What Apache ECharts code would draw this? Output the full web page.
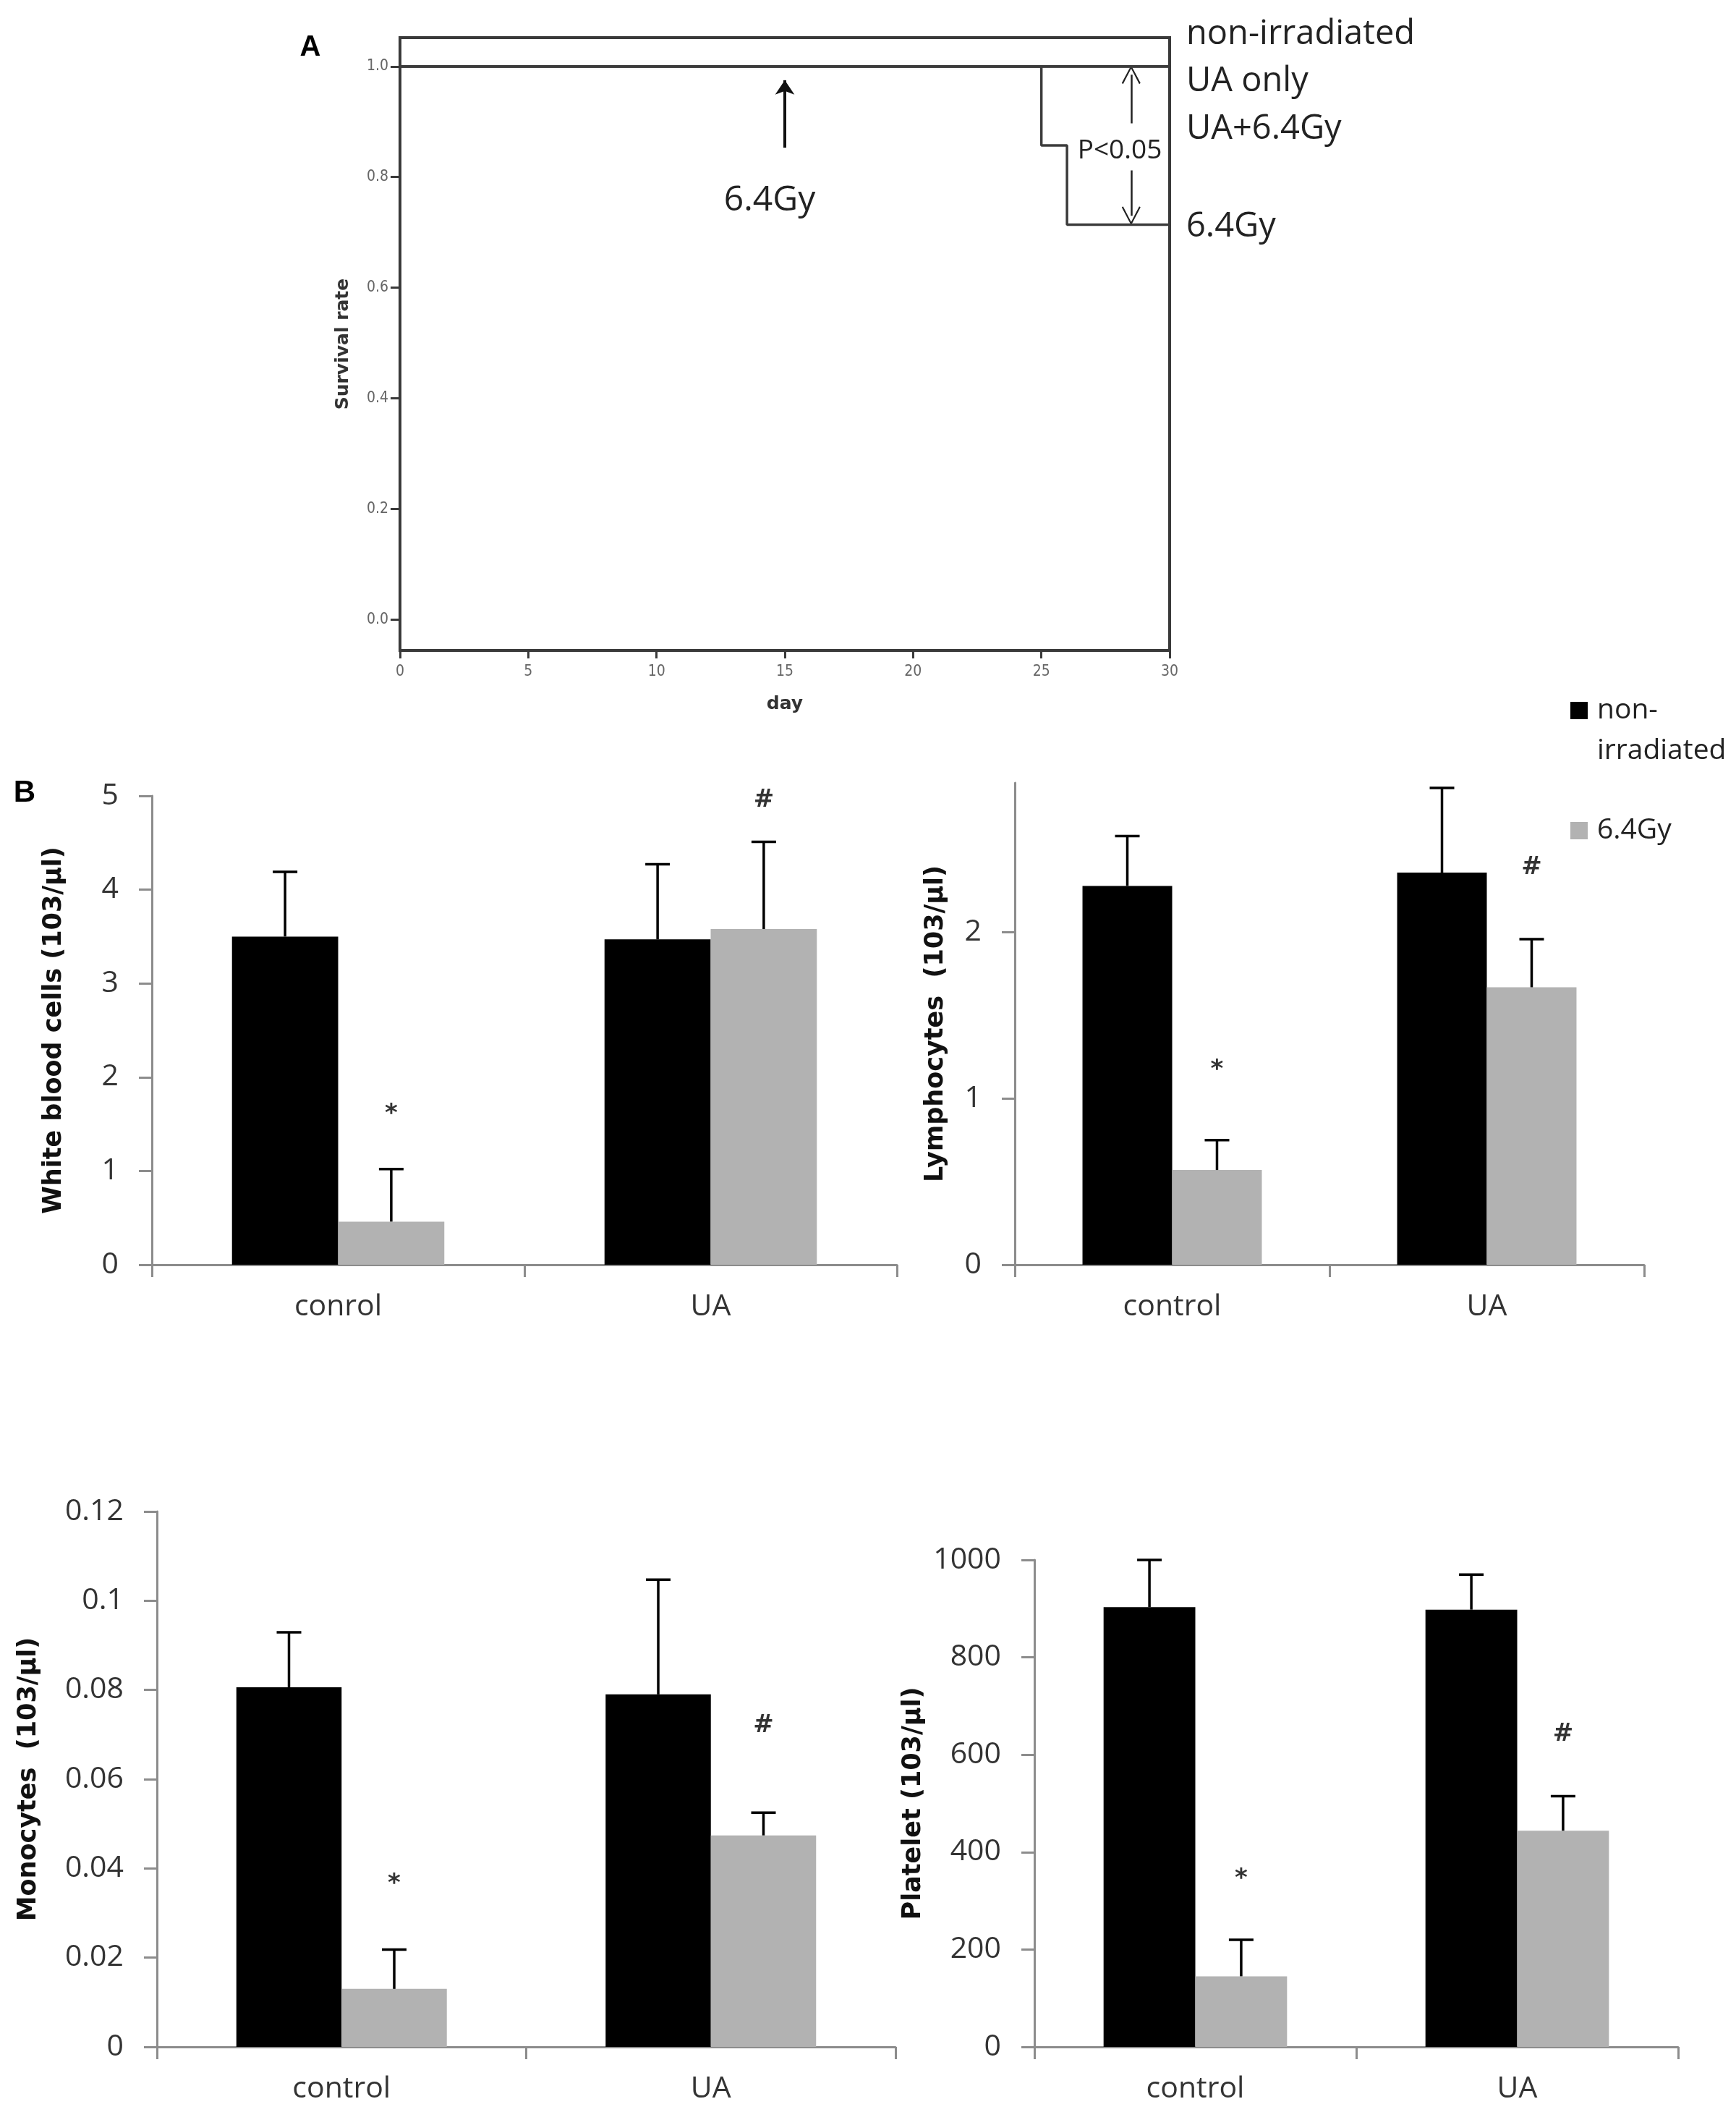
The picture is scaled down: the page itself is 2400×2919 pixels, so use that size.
<!doctype html>
<html lang="en">
<head>
<meta charset="UTF-8">
<title>Survival and blood counts</title>
<script src="https://cdn.jsdelivr.net/npm/echarts@6/dist/echarts.min.js"></script>
<style>html,body{margin:0;padding:0;background:#fff;}</style>
</head>
<body>
<div id="main" style="width:2400px;height:2919px;"></div>
<script>
// ---- panel A : survival curves ----
var rateTicks = [0, 0.2, 0.4, 0.6, 0.8, 1.0];
var curveNonIrr = [[0, 1], [30, 1]];
var curveUAOnly = [[0, 1], [30, 1]];
var curveUAIrr = [[0, 1], [30, 1]];
var curveIrr = [[0, 1], [25, 0.857], [26, 0.714], [30, 0.714]];
var irrArrow = [[15, 0.853], [15, 0.975]];
var pArrowUp = [[28.5, 0.897], [28.5, 0.985]];
var pArrowDown = [[28.5, 0.812], [28.5, 0.73]];

// ---- panel B : blood counts ----
var wbcGroups = ['conrol', 'UA'];
var wbcNon = [3.50, 3.47], wbcNonSd = [0.69, 0.80];
var wbcIrr = [0.46, 3.58], wbcIrrSd = [0.56, 0.93];
var wbcMarks = ['*', '#'], wbcMarkAt = [1.6, 4.95];

var lymGroups = ['control', 'UA'];
var lymNon = [2.28, 2.36], lymNonSd = [0.30, 0.51];
var lymIrr = [0.57, 1.67], lymIrrSd = [0.18, 0.29];
var lymMarks = ['*', '#'], lymMarkAt = [1.17, 2.39];

var monGroups = ['control', 'UA'];
var monNon = [0.0806, 0.0790], monNonSd = [0.0123, 0.0257];
var monIrr = [0.0130, 0.0474], monIrrSd = [0.0088, 0.0051];
var monMarks = ['*', '#'], monMarkAt = [0.0365, 0.072];

var pltGroups = ['control', 'UA'];
var pltNon = [903, 898], pltNonSd = [97, 72];
var pltIrr = [145, 444], pltIrrSd = [75, 71];
var pltMarks = ['*', '#'], pltMarkAt = [345, 642];

var GAP = 0.43;
var BLACK = '#000000', GREY = '#b2b2b2', AXIS = '#8c8c8c';
var TXT = '"Open Sans", sans-serif';
var chart = echarts.init(document.getElementById('main'));

function pairs(means, extra) {
    return means.map(function (m, i) { return [i, m, extra ? extra[i] : 0]; });
}

function errItem(side) {
    return function (params, api) {
        var c = api.value(0), m = api.value(1), s = api.value(2);
        var bw = api.size([1, 0])[0] * (1 - GAP) / 2;
        var p0 = api.coord([c, m]), p1 = api.coord([c, m + s]);
        var x = p0[0] + side * bw / 2;
        var st = {stroke: '#000', lineWidth: 3.5};
        return {type: 'group', children: [
            {type: 'line', shape: {x1: x, y1: p0[1], x2: x, y2: p1[1]}, style: st},
            {type: 'line', shape: {x1: x - 17, y1: p1[1], x2: x + 17, y2: p1[1]}, style: st}
        ]};
    };
}

function markItem(texts) {
    return function (params, api) {
        var bw = api.size([1, 0])[0] * (1 - GAP) / 2;
        var p = api.coord([api.value(0), api.value(1)]);
        return {type: 'text', x: p[0] + bw / 2, y: p[1], style: {
            text: texts[params.dataIndex], fill: '#333',
            font: 'bold 34px "DejaVu Sans"',
            align: 'center', verticalAlign: 'middle',
            textAlign: 'center', textVerticalAlign: 'middle'
        }};
    };
}

var grids = [{left: 553, top: 52, width: 1064, height: 847,
              show: true, borderColor: '#3a3a3a', borderWidth: 4}];
var xAxes = [{
    gridIndex: 0, type: 'value', min: 0, max: 30, interval: 5,
    name: 'day', nameLocation: 'middle', nameGap: 62,
    nameTextStyle: {fontFamily: 'DejaVu Sans', fontWeight: 'bold', fontSize: 25, color: '#333'},
    axisLine: {show: false, onZero: false}, splitLine: {show: false},
    axisTick: {show: true, length: 11, lineStyle: {color: '#3a3a3a', width: 3}},
    axisLabel: {margin: 19, fontFamily: '"DejaVu Sans Condensed", "DejaVu Sans"', fontSize: 21, color: '#666'}
}];
var yAxes = [{
    gridIndex: 0, type: 'value', min: -0.056, max: 1.052,
    name: 'Survival rate', nameLocation: 'middle', nameGap: 66,
    nameTextStyle: {fontFamily: 'DejaVu Sans', fontWeight: 'bold', fontSize: 25, color: '#333'},
    axisLine: {show: false, onZero: false}, splitLine: {show: false},
    axisTick: {show: true, length: 13, customValues: rateTicks, lineStyle: {color: '#3a3a3a', width: 3}},
    axisLabel: {margin: 16, customValues: rateTicks, fontFamily: '"DejaVu Sans Condensed", "DejaVu Sans"',
                fontSize: 21, color: '#666', formatter: function (v) { return v.toFixed(1); }}
}];

var kmLine = {type: 'line', xAxisIndex: 0, yAxisIndex: 0, showSymbol: false, symbol: 'none',
              lineStyle: {color: '#3c3c3c', width: 3.5}, silent: true};
var chevron = 'path://M10,0 L20,22 L18.6,23.2 L10,4 L1.4,23.2 L0,22 Z';
var series = [
    Object.assign({name: 'km non-irradiated', data: curveNonIrr}, kmLine),
    Object.assign({name: 'km UA only', data: curveUAOnly}, kmLine),
    Object.assign({name: 'km UA+6.4Gy', data: curveUAIrr}, kmLine),
    Object.assign({name: 'km 6.4Gy', data: curveIrr, step: 'end'}, kmLine),
    {type: 'lines', coordinateSystem: 'cartesian2d', xAxisIndex: 0, yAxisIndex: 0,
     symbol: ['none', 'arrow'], symbolSize: 20, silent: true,
     lineStyle: {color: '#111', width: 4, opacity: 1},
     data: [{coords: irrArrow}]},
    {type: 'lines', coordinateSystem: 'cartesian2d', xAxisIndex: 0, yAxisIndex: 0,
     symbol: ['none', chevron], symbolSize: [34, 26], silent: true,
     lineStyle: {color: '#222', width: 2.5, opacity: 1},
     itemStyle: {color: '#222'},
     data: [{coords: pArrowUp}, {coords: pArrowDown}]}
];

var panels = [
    {box: [210, 1100, 1030, 648], groups: wbcGroups, max: 5, interval: 1,
     name: 'White blood cells (103/µl)', gap: 118,
     non: wbcNon, nonSd: wbcNonSd, irr: wbcIrr, irrSd: wbcIrrSd, marks: wbcMarks, markAt: wbcMarkAt},
    {box: [1403, 1082, 870, 666], groups: lymGroups, max: 2.9, interval: 1, ticks: [0, 1, 2],
     name: 'Lymphocytes  (103/µl)', gap: 92,
     non: lymNon, nonSd: lymNonSd, irr: lymIrr, irrSd: lymIrrSd, marks: lymMarks, markAt: lymMarkAt},
    {box: [217, 2089, 1021, 740], groups: monGroups, max: 0.12, interval: 0.02,
     name: 'Monocytes  (103/µl)', gap: 160,
     non: monNon, nonSd: monNonSd, irr: monIrr, irrSd: monIrrSd, marks: monMarks, markAt: monMarkAt},
    {box: [1430, 2156, 890, 673], groups: pltGroups, max: 1000, interval: 200,
     name: 'Platelet (103/µl)', gap: 150,
     non: pltNon, nonSd: pltNonSd, irr: pltIrr, irrSd: pltIrrSd, marks: pltMarks, markAt: pltMarkAt}
];

panels.forEach(function (p, k) {
    var g = k + 1;
    grids.push({left: p.box[0], top: p.box[1], width: p.box[2], height: p.box[3]});
    xAxes.push({
        gridIndex: g, type: 'category', data: p.groups,
        axisLine: {lineStyle: {color: AXIS, width: 3}},
        axisTick: {show: true, length: 17, lineStyle: {color: AXIS, width: 3}},
        axisLabel: {margin: 38, fontFamily: TXT, fontSize: 41, color: '#333'}
    });
    var y = {
        gridIndex: g, type: 'value', min: 0, max: p.max, interval: p.interval,
        name: p.name, nameLocation: 'middle', nameGap: p.gap,
        nameTextStyle: {fontFamily: 'DejaVu Sans', fontWeight: 'bold', fontSize: 35, color: '#111'},
        axisLine: {show: true, lineStyle: {color: AXIS, width: 3}},
        axisTick: {show: true, length: 18, lineStyle: {color: AXIS, width: 3}},
        splitLine: {show: false},
        axisLabel: {margin: 46, fontFamily: TXT, fontSize: 41, color: '#333',
                    formatter: function (v) { return String(+v.toFixed(4)); }}
    };
    if (p.ticks) {
        y.axisTick.customValues = p.ticks;
        y.axisLabel.customValues = p.ticks;
    }
    yAxes.push(y);
    series.push(
        {name: 'non-irradiated', type: 'bar', xAxisIndex: g, yAxisIndex: g, data: p.non,
         barGap: '0%', barCategoryGap: (GAP * 100) + '%', itemStyle: {color: BLACK}, silent: true},
        {name: '6.4Gy', type: 'bar', xAxisIndex: g, yAxisIndex: g, data: p.irr,
         barGap: '0%', barCategoryGap: (GAP * 100) + '%', itemStyle: {color: GREY}, silent: true},
        {type: 'custom', xAxisIndex: g, yAxisIndex: g, renderItem: errItem(-1),
         data: pairs(p.non, p.nonSd), z: 5, silent: true},
        {type: 'custom', xAxisIndex: g, yAxisIndex: g, renderItem: errItem(1),
         data: pairs(p.irr, p.irrSd), z: 5, silent: true},
        {type: 'custom', xAxisIndex: g, yAxisIndex: g, renderItem: markItem(p.marks),
         data: pairs(p.markAt), z: 5, silent: true}
    );
});

var legendText = {fontFamily: TXT, fontSize: 39, color: '#222', lineHeight: 56, padding: [0, 0, 0, 8]};
chart.setOption({
    animation: false,
    backgroundColor: '#fff',
    grid: grids,
    xAxis: xAxes,
    yAxis: yAxes,
    legend: [
        // empty first line keeps the square level with "non-"
        {left: 2166, top: 893, orient: 'vertical', icon: 'rect', itemWidth: 24, itemHeight: 24,
         selectedMode: false, textStyle: legendText,
         data: ['non-irradiated'],
         formatter: function () { return ' \nnon-\nirradiated'; }},
        {left: 2166, top: 1115, orient: 'vertical', icon: 'rect', itemWidth: 24, itemHeight: 24,
         selectedMode: false, textStyle: legendText,
         data: ['6.4Gy']}
    ],
    graphic: [
        {type: 'text', x: 429, y: 66, style: {text: 'A', font: 'bold 40px "Liberation Sans"', fill: '#000', align: 'center', verticalAlign: 'middle'}},
        {type: 'text', x: 34, y: 1096, style: {text: 'B', font: 'bold 42px "Liberation Sans"', fill: '#000', align: 'center', verticalAlign: 'middle'}},
        {type: 'text', x: 1640, y: 48, style: {text: 'non-irradiated', font: '47px "Open Sans"', fill: '#222', verticalAlign: 'middle'}},
        {type: 'text', x: 1640, y: 113, style: {text: 'UA only', font: '47px "Open Sans"', fill: '#222', verticalAlign: 'middle'}},
        {type: 'text', x: 1640, y: 179, style: {text: 'UA+6.4Gy', font: '47px "Open Sans"', fill: '#222', verticalAlign: 'middle'}},
        {type: 'text', x: 1640, y: 314, style: {text: '6.4Gy', font: '47px "Open Sans"', fill: '#222', verticalAlign: 'middle'}},
        {type: 'text', x: 1064, y: 277, style: {text: '6.4Gy', font: '48px "Open Sans"', fill: '#222', align: 'center', verticalAlign: 'middle'}},
        {type: 'text', x: 1548, y: 208, style: {text: 'P<0.05', font: '37px "Open Sans"', fill: '#222', align: 'center', verticalAlign: 'middle'}}
    ],
    series: series
});
</script>
</body>
</html>
